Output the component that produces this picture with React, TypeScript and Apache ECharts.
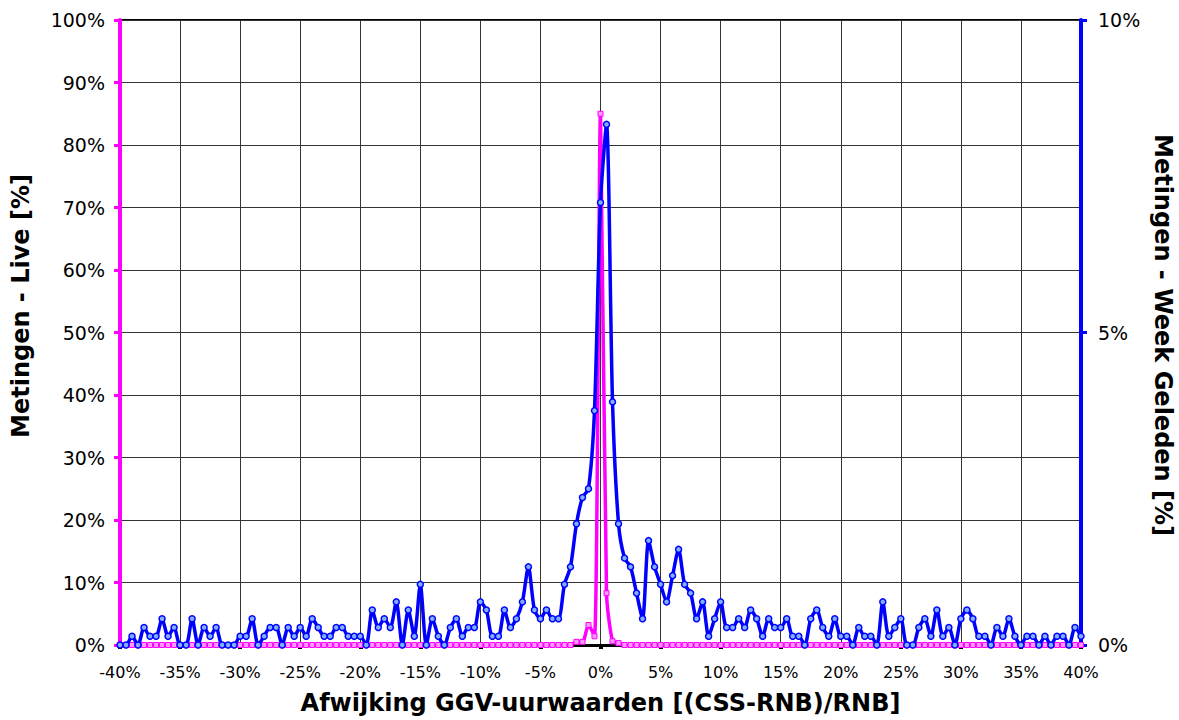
import React, { useEffect, useRef } from "react";
import * as echarts from "echarts";

// x categories: deviation in %
const xCategories = [
  -40, -39.5, -39, -38.5, -38, -37.5, -37, -36.5, -36, -35.5,
  -35, -34.5, -34, -33.5, -33, -32.5, -32, -31.5, -31, -30.5,
  -30, -29.5, -29, -28.5, -28, -27.5, -27, -26.5, -26, -25.5,
  -25, -24.5, -24, -23.5, -23, -22.5, -22, -21.5, -21, -20.5,
  -20, -19.5, -19, -18.5, -18, -17.5, -17, -16.5, -16, -15.5,
  -15, -14.5, -14, -13.5, -13, -12.5, -12, -11.5, -11, -10.5,
  -10, -9.5, -9, -8.5, -8, -7.5, -7, -6.5, -6, -5.5,
  -5, -4.5, -4, -3.5, -3, -2.5, -2, -1.5, -1, -0.5,
  0, 0.5, 1, 1.5, 2, 2.5, 3, 3.5, 4, 4.5,
  5, 5.5, 6, 6.5, 7, 7.5, 8, 8.5, 9, 9.5,
  10, 10.5, 11, 11.5, 12, 12.5, 13, 13.5, 14, 14.5,
  15, 15.5, 16, 16.5, 17, 17.5, 18, 18.5, 19, 19.5,
  20, 20.5, 21, 21.5, 22, 22.5, 23, 23.5, 24, 24.5,
  25, 25.5, 26, 26.5, 27, 27.5, 28, 28.5, 29, 29.5,
  30, 30.5, 31, 31.5, 32, 32.5, 33, 33.5, 34, 34.5,
  35, 35.5, 36, 36.5, 37, 37.5, 38, 38.5, 39, 39.5,
  40,
];

// Metingen - Week Geleden [%] (right axis)
const weekAgo = [
  0, 0, 0.14, 0, 0.28, 0.14, 0.14, 0.42, 0.14, 0.28,
  0, 0, 0.42, 0, 0.28, 0.14, 0.28, 0, 0, 0,
  0.14, 0.14, 0.42, 0, 0.14, 0.28, 0.28, 0, 0.28, 0.14,
  0.28, 0.14, 0.42, 0.28, 0.14, 0.14, 0.28, 0.28, 0.14, 0.14,
  0.14, 0, 0.56, 0.28, 0.42, 0.28, 0.69, 0, 0.56, 0.14,
  0.97, 0, 0.42, 0.14, 0, 0.28, 0.42, 0.14, 0.28, 0.28,
  0.69, 0.56, 0.14, 0.14, 0.56, 0.28, 0.42, 0.69, 1.25, 0.56,
  0.42, 0.56, 0.42, 0.42, 0.97, 1.25, 1.94, 2.36, 2.5, 3.75,
  7.08, 8.33, 3.89, 1.94, 1.39, 1.25, 0.83, 0.42, 1.67, 1.25,
  0.97, 0.69, 1.11, 1.53, 0.97, 0.83, 0.42, 0.69, 0.14, 0.42,
  0.69, 0.28, 0.28, 0.42, 0.28, 0.56, 0.42, 0.14, 0.42, 0.28,
  0.28, 0.42, 0.14, 0.14, 0, 0.42, 0.56, 0.28, 0.14, 0.42,
  0.14, 0.14, 0, 0.28, 0.14, 0.14, 0, 0.69, 0.14, 0.28,
  0.42, 0, 0, 0.28, 0.42, 0.14, 0.56, 0.14, 0.28, 0,
  0.42, 0.56, 0.42, 0.14, 0.14, 0, 0.28, 0.14, 0.42, 0.14,
  0, 0.14, 0.14, 0, 0.14, 0, 0.14, 0.14, 0, 0.28,
  0.14,
];

// Metingen - Live [%] (left axis)
const live = [
  0, 0, 0, 0, 0, 0, 0, 0, 0, 0,
  0, 0, 0, 0, 0, 0, 0, 0, 0, 0,
  0, 0, 0, 0, 0, 0, 0, 0, 0, 0,
  0, 0, 0, 0, 0, 0, 0, 0, 0, 0,
  0, 0, 0, 0, 0, 0, 0, 0, 0, 0,
  0, 0, 0, 0, 0, 0, 0, 0, 0, 0,
  0, 0, 0, 0, 0, 0, 0, 0, 0, 0,
  0, 0, 0, 0, 0, 0, 0.5, 0.5, 3.2, 1.4,
  85, 8.3, 0.6, 0.3, 0, 0, 0, 0, 0, 0,
  0, 0, 0, 0, 0, 0, 0, 0, 0, 0,
  0, 0, 0, 0, 0, 0, 0, 0, 0, 0,
  0, 0, 0, 0, 0, 0, 0, 0, 0, 0,
  0, 0, 0, 0, 0, 0, 0, 0, 0, 0,
  0, 0, 0, 0, 0, 0, 0, 0, 0, 0,
  0, 0, 0, 0, 0, 0, 0, 0, 0, 0,
  0, 0, 0, 0, 0, 0, 0, 0, 0, 0,
  0,
];

const FONT = "'DejaVu Sans', Verdana, sans-serif";

export default function App() {
  const ref = useRef<HTMLDivElement>(null);

  useEffect(() => {
    document.body.style.margin = "0";
    if (!ref.current) return;
    const chart = echarts.init(ref.current, undefined, { renderer: "svg" });
    const liveData = xCategories.map((x, i) => [x, live[i]]);
    const weekData = xCategories.map((x, i) => [x, weekAgo[i]]);

    chart.setOption({
      animation: false,
      backgroundColor: "#ffffff",
      grid: {
        left: 120,
        right: 98,
        top: 20,
        bottom: 71,
        show: true,
        borderColor: "#000000",
        borderWidth: 2,
        backgroundColor: "transparent",
      },
      xAxis: {
        type: "value",
        min: -40,
        max: 40,
        interval: 5,
        name: "Afwijking GGV-uurwaarden [(CSS-RNB)/RNB]",
        nameLocation: "middle",
        nameGap: 46,
        nameTextStyle: {
          fontFamily: FONT,
          fontSize: 24,
          fontWeight: "bold",
          color: "#000",
        },
        axisLine: { show: true, onZero: false, lineStyle: { color: "#000", width: 3 } },
        axisTick: { show: true, length: 4, lineStyle: { color: "#000", width: 4 } },
        axisLabel: {
          formatter: (v: number) => `${v}%`,
          fontFamily: FONT,
          fontSize: 16,
          color: "#000",
          margin: 19,
        },
        splitLine: { show: true, lineStyle: { color: "#333", width: 1 } },
      },
      yAxis: [
        {
          type: "value",
          min: 0,
          max: 100,
          interval: 10,
          position: "left",
          axisLine: { show: true, onZero: false, lineStyle: { color: "#ff00ff", width: 4 } },
          axisTick: { show: true, length: 6, lineStyle: { color: "#ff00ff", width: 3 } },
          axisLabel: {
            formatter: "{value}%",
            fontFamily: FONT,
            fontSize: 19,
            color: "#000",
            margin: 15,
          },
          splitLine: { show: true, lineStyle: { color: "#333", width: 1 } },
        },
        {
          type: "value",
          min: 0,
          max: 10,
          interval: 5,
          position: "right",
          axisLine: { show: true, onZero: false, lineStyle: { color: "#0000ff", width: 4 } },
          axisTick: { show: true, length: 6, lineStyle: { color: "#0000ff", width: 3 } },
          axisLabel: {
            formatter: "{value}%",
            fontFamily: FONT,
            fontSize: 19,
            color: "#000",
            margin: 17,
          },
          splitLine: { show: false },
        },
      ],
      graphic: [
        {
          type: "text",
          x: 21,
          y: 306,
          rotation: Math.PI / 2,
          style: {
            text: "Metingen - Live [%]",
            font: `bold 24px ${FONT}`,
            fill: "#000",
            align: "center",
            verticalAlign: "middle",
          },
        },
        {
          type: "text",
          x: 1163,
          y: 335,
          rotation: -Math.PI / 2,
          style: {
            text: "Metingen - Week Geleden [%]",
            font: `bold 24px ${FONT}`,
            fill: "#000",
            align: "center",
            verticalAlign: "middle",
          },
        },
      ],
      series: [
        {
          name: "Metingen - Live",
          type: "line",
          yAxisIndex: 0,
          data: liveData,
          smooth: 0.25,
          symbol: "rect",
          symbolSize: 5,
          lineStyle: { color: "#ff00ff", width: 3.5 },
          itemStyle: { color: "#ff99ff", borderColor: "#ff00ff", borderWidth: 1 },
          z: 2,
        },
        {
          name: "Metingen - Week Geleden",
          type: "line",
          yAxisIndex: 1,
          data: weekData,
          smooth: 0.25,
          symbol: "circle",
          symbolSize: 6,
          lineStyle: { color: "#0000ff", width: 3.5 },
          itemStyle: { color: "#7fb0ff", borderColor: "#0000ff", borderWidth: 1.5 },
          z: 3,
        },
      ],
    });

    return () => {
      chart.dispose();
    };
  }, []);

  return <div ref={ref} style={{ width: 1179, height: 720 }} />;
}
